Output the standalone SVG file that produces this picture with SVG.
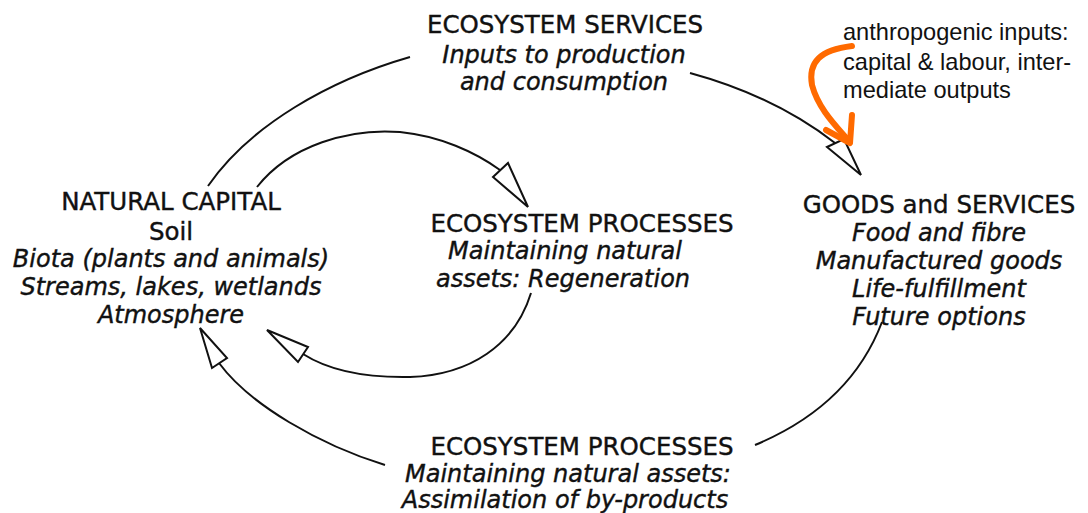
<svg xmlns="http://www.w3.org/2000/svg" width="1088" height="513" viewBox="0 0 1088 513">
<style>
.t{font-family:"DejaVu Sans",Verdana,sans-serif;font-size:24.5px;fill:#111;stroke:#111;stroke-width:0.4;text-anchor:middle}
.i{font-style:italic;font-size:24px}
.a{font-family:"Liberation Sans",Arial,sans-serif;font-size:23.6px;fill:#111}
.c{fill:none;stroke:#111;stroke-width:2}
.h{fill:#fff;stroke:#111;stroke-width:2;stroke-linejoin:miter}
</style>
<rect width="1088" height="513" fill="#fff"/>
<g id="connectors">
<path class="c" d="M208,186 C250,125 330,80 410,57"/>
<path class="c" d="M690,73 C745,88 795,112 835,143"/>
<polygon class="h" points="827,147 844,139 861,175"/>
<path class="c" d="M257,187 C290,145 350,128 400,132 C440,136 475,152 500,170"/>
<polygon class="h" points="493,177 508,163 528,207"/>
<path class="c" d="M531,293 C515,345 470,375 410,377 C360,378 325,368 303,354"/>
<polygon class="h" points="267,330 308,347 298,362"/>
<path class="c" d="M219,363 C250,405 320,445 385,465"/>
<polygon class="h" points="200,328 227,358 212,368"/>
<path class="c" d="M755,445 C815,420 860,380 882,322"/>
<path d="M852,46 C820,50 808,62 812,85 C818,108 835,125 849,141" fill="none" stroke="#ff6a00" stroke-width="6" stroke-linecap="round"/>
<path d="M826,130 L850,143 L852,115" fill="none" stroke="#ff6a00" stroke-width="6" stroke-linecap="round" stroke-linejoin="round"/>
</g>
<g id="ecosystem-services">
<text class="t" x="565" y="33">ECOSYSTEM SERVICES</text>
<text class="t i" x="564" y="63">Inputs to production</text>
<text class="t i" x="564" y="90">and consumption</text>
</g>
<g id="anthropogenic-inputs">
<text class="a" x="843" y="40">anthropogenic inputs:</text>
<text class="a" x="843" y="70">capital &amp; labour, inter-</text>
<text class="a" x="843" y="98">mediate outputs</text>
</g>
<g id="natural-capital">
<text class="t" x="171" y="210">NATURAL CAPITAL</text>
<text class="t" x="171" y="240">Soil</text>
<text class="t i" x="171" y="267">Biota (plants and animals)</text>
<text class="t i" x="171" y="295">Streams, lakes, wetlands</text>
<text class="t i" x="171" y="323">Atmosphere</text>
</g>
<g id="ecosystem-processes-regeneration">
<text class="t" x="582" y="232">ECOSYSTEM PROCESSES</text>
<text class="t i" x="565" y="259">Maintaining natural</text>
<text class="t i" x="563" y="287">assets: Regeneration</text>
</g>
<g id="goods-and-services">
<text class="t" x="939" y="213">GOODS and SERVICES</text>
<text class="t i" x="939" y="241">Food and fibre</text>
<text class="t i" x="939" y="269">Manufactured goods</text>
<text class="t i" x="939" y="297">Life-fulfillment</text>
<text class="t i" x="939" y="325">Future options</text>
</g>
<g id="ecosystem-processes-assimilation">
<text class="t" x="582" y="455">ECOSYSTEM PROCESSES</text>
<text class="t i" x="568" y="482">Maintaining natural assets:</text>
<text class="t i" x="565" y="508">Assimilation of by-products</text>
</g>
</svg>
